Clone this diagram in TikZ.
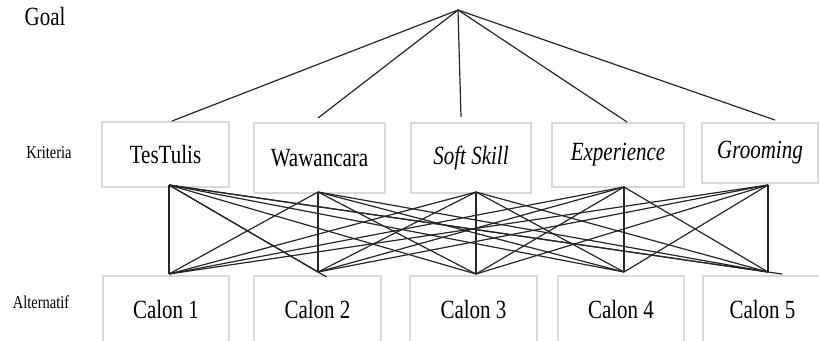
\documentclass[tikz,border=0pt]{standalone}
\usepackage{fontspec}
\usepackage{graphicx}
\setmainfont{LiberationSerif}[Extension=.ttf, UprightFont=*-Regular,
  ItalicFont=*-Italic, BoldFont=*-Bold, BoldItalicFont=*-BoldItalic]
\newcommand{\tall}[1]{\scalebox{1}[1.25]{#1}}
\tikzset{
  level/.style={inner sep=0pt, font=\fontsize{14.5}{15}\selectfont},
  crit/.style={draw=gray!30, line width=1.5pt, inner sep=0pt,
    font=\fontsize{21}{22}\selectfont},
  alt/.style={crit},
  link/.style={line width=1.2pt, black!85}
}
\begin{document}
\begin{tikzpicture}[x=1pt, y=-1pt]
\useasboundingbox (0,0) rectangle (819,340);

% level labels
\node[level, font=\fontsize{21}{22}\selectfont] (goal) at (45,17) {\tall{Goal}};
\node[level] (lk) at (49,153) {\tall{Kriteria}};
\node[level] (la) at (41,302) {\tall{Alternatif}};

% criteria
\node[crit, minimum width=127pt, minimum height=65pt] (k1) at (165.5,154.5) {\tall{TesTulis}};
\node[crit, minimum width=131pt, minimum height=70pt] (k2) at (319.5,158) {\tall{Wawancara}};
\node[crit, minimum width=120pt, minimum height=70pt] (k3) at (471,158) {\tall{\itshape Soft Skill}};
\node[crit, minimum width=132pt, minimum height=64pt] (k4) at (618,155) {\tall{\itshape Experience}};
\node[crit, minimum width=116pt, minimum height=60pt] (k5) at (760,153) {\tall{\itshape Grooming}};

% alternatives
\node[alt, minimum width=126pt, minimum height=68pt] (c1) at (166,310) {\tall{Calon 1}};
\node[alt, minimum width=127pt, minimum height=68pt] (c2) at (317.5,310) {\tall{Calon 2}};
\node[alt, minimum width=127pt, minimum height=68pt] (c3) at (473.5,310) {\tall{Calon 3}};
\node[alt, minimum width=126pt, minimum height=68pt] (c4) at (621,310) {\tall{Calon 4}};
\node[alt, minimum width=119pt, minimum height=68pt] (c5) at (762.5,310) {\tall{Calon 5}};

% connection points
\coordinate (apex) at (458,10);
\coordinate (kt1) at (172,121);
\coordinate (kt2) at (318,118);
\coordinate (kt3) at (461,117);
\coordinate (kt4) at (627,122);
\coordinate (kt5) at (775,120);
\coordinate (kb1) at (169,185);
\coordinate (kb2) at (318,192);
\coordinate (kb3) at (476,192);
\coordinate (kb4) at (624,187);
\coordinate (kb5) at (768,185);
\coordinate (ct1) at (169,274);
\coordinate (ct2) at (318,272);
\coordinate (ct3) at (476,274);
\coordinate (ct4) at (624,272);
\coordinate (ct5) at (768,272);

% goal to criteria
\foreach \i in {1,...,5}
  \draw[link] (apex) -- (kt\i);

% every criterion to every alternative
\foreach \i in {1,...,5}
  \foreach \j in {1,...,5}
    \draw[link] (kb\i) -- (ct\j);

% two links from TesTulis run a little past their ends
\draw[link, shorten >=-10pt] (kb1) -- (ct2);
\draw[link, shorten >=-14pt] (kb1) -- (ct5);
\end{tikzpicture}
\end{document}
